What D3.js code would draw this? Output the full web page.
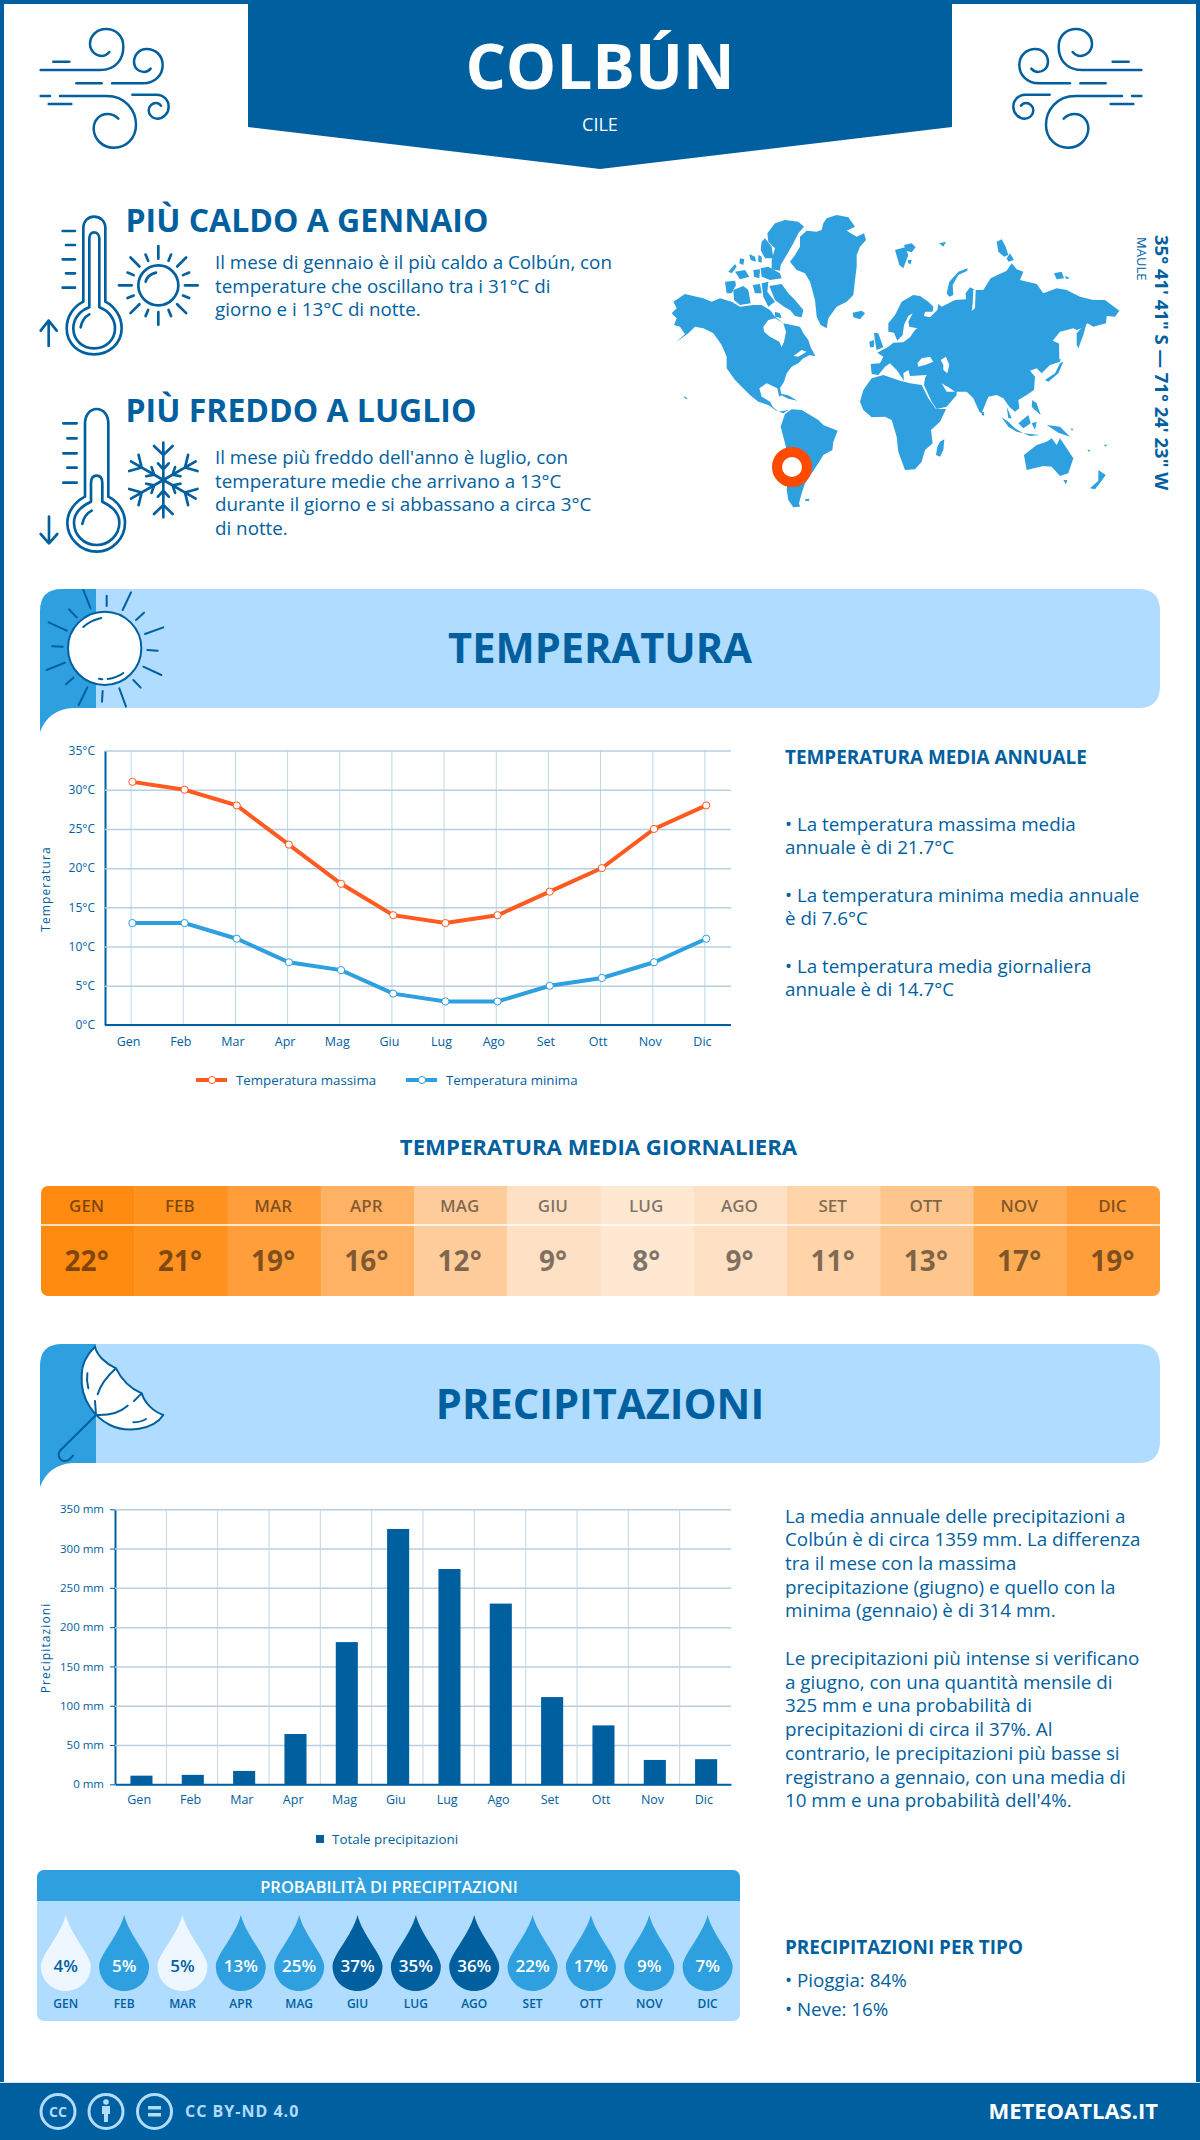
<!DOCTYPE html>
<html>
<head>
<meta charset="utf-8">
<script src="https://cdn.jsdelivr.net/npm/d3@7"></script>
<style>
html, body { margin: 0; padding: 0; background: #fff; }
svg { display: block; }
text { font-family: "Open Sans", sans-serif; }
.axis text { fill: #00609f; }
</style>
</head>
<body>
<div id="chart"></div>
<script>
// data
const months = ["Gen", "Feb", "Mar", "Apr", "Mag", "Giu", "Lug", "Ago", "Set", "Ott", "Nov", "Dic"];
const monthsUpper = ["GEN", "FEB", "MAR", "APR", "MAG", "GIU", "LUG", "AGO", "SET", "OTT", "NOV", "DIC"];
const tempMax = [31, 30, 28, 23, 18, 14, 13, 14, 17, 20, 25, 28];
const tempMin = [13, 13, 11, 8, 7, 4, 3, 3, 5, 6, 8, 11];
const tempAvg = [22, 21, 19, 16, 12, 9, 8, 9, 11, 13, 17, 19];
const precipTotal = [11, 12, 17, 64, 181, 325, 274, 230, 111, 75, 31, 32];
const precipProb = [4, 5, 5, 13, 25, 37, 35, 36, 22, 17, 9, 7];
const probClass = [0, 1, 0, 1, 1, 2, 2, 2, 1, 1, 1, 1];
const tempTicks = [0, 5, 10, 15, 20, 25, 30, 35];
const precipTicks = [0, 50, 100, 150, 200, 250, 300, 350];

const hotText = ["Il mese di gennaio è il più caldo a Colbún, con", "temperature che oscillano tra i 31°C di", "giorno e i 13°C di notte."];
const coldText = ["Il mese più freddo dell'anno è luglio, con", "temperature medie che arrivano a 13°C", "durante il giorno e si abbassano a circa 3°C", "di notte."];
const annualText = [
  ["• La temperatura massima media", "annuale è di 21.7°C"],
  ["• La temperatura minima media annuale", "è di 7.6°C"],
  ["• La temperatura media giornaliera", "annuale è di 14.7°C"]
];
const precipText1 = ["La media annuale delle precipitazioni a", "Colbún è di circa 1359 mm. La differenza", "tra il mese con la massima", "precipitazione (giugno) e quello con la", "minima (gennaio) è di 314 mm."];
const precipText2 = ["Le precipitazioni più intense si verificano", "a giugno, con una quantità mensile di", "325 mm e una probabilità di", "precipitazioni di circa il 37%. Al", "contrario, le precipitazioni più basse si", "registrano a gennaio, con una media di", "10 mm e una probabilità dell'4%."];

const BLUE = "#00609f", MID = "#2e9fdf", LIGHT = "#b0dcff", RED = "#ff5a1f";

let svg = d3.select("#chart").append("svg").attr("width", 1200).attr("height", 2140);

let txt = function(x, y, s, size, weight, fill, anchor) {
  return svg.append("text").attr("x", x).attr("y", y).attr("font-size", size)
    .attr("font-weight", weight || 400).attr("fill", fill || BLUE)
    .attr("text-anchor", anchor || "start").text(s);
};
let lines = function(x, y, arr, size, lh) {
  arr.forEach(function(s, i) { txt(x, y + i * lh, s, size); });
};

// frame and header
svg.append("rect").attr("width", 1200).attr("height", 4).attr("fill", BLUE);
svg.append("rect").attr("width", 4).attr("height", 2140).attr("fill", BLUE);
svg.append("rect").attr("x", 1196).attr("width", 4).attr("height", 2140).attr("fill", BLUE);
svg.append("path").attr("d", "M248 0H952V127L600 169L248 127Z").attr("fill", BLUE);
txt(600, 89, "COLBÚN", 63.5, 700, "#fff", "middle");
txt(600, 131, "CILE", 18, 400, "#fff", "middle");

// icons are drawn in the pixel space of a 3x crop
let icon = function(tx, ty, sx, sy, w, color) {
  return svg.append("g").attr("transform", "translate(" + tx + "," + ty + ") scale(" + sx + "," + sy + ")")
    .attr("fill", "none").attr("stroke", color || BLUE).attr("stroke-width", w)
    .attr("stroke-linecap", "round").attr("stroke-linejoin", "round");
};
const windPaths = [
  "M160 185H208",
  "M122 210H300C350 210 370 175 370 140C370 105 345 87 318 87C290 87 270 108 270 132C270 155 290 168 305 168C315 168 322 163 328 156",
  "M229 250H305",
  "M336 250H430C465 250 488 225 488 195C488 165 465 147 440 147C418 147 402 165 402 185C402 205 418 216 432 216C440 216 447 212 452 206",
  "M122 288H150",
  "M180 288H320C375 288 408 330 408 375C408 415 378 443 342 443C305 443 281 415 281 385C281 360 300 342 322 342C335 342 347 348 355 356",
  "M146 312H214",
  "M397 284H470C490 284 506 300 506 320C506 340 490 356 472 356C456 356 446 343 446 331C446 318 457 309 468 309C475 309 480 313 483 317"
];
[icon(0, 0, 1/3, 1/3, 7.5), icon(1182, 0, -1/3, 1/3, 7.5)].forEach(function(g) {
  windPaths.forEach(function(d) { g.append("path").attr("d", d); });
});

// hot and cold blocks
let thermo = icon(30, 200, 1/3, 1/3, 8);
[
  "M160 305V85C160 62 175 50 192 50C210 50 226 62 226 85V305C255 320 275 350 275 385C275 430 238 463 192 463C145 463 110 430 110 385C110 350 130 320 160 305Z",
  "M178 322V115C178 103 185 97 192 97C200 97 208 103 208 115V322C235 332 255 355 255 385C255 420 228 445 192 445C157 445 130 420 130 385C130 355 150 332 178 322Z",
  "M152 382C155 365 165 350 178 343",
  "M98 93H135M108 135H135M98 178H135M108 220H135M98 263H135",
  "M56 438V362M32 392L56 362L80 392",
  "M165 890V670C165 645 180 627 200 627C220 627 235 645 235 670V890C265 905 285 935 285 968C285 1015 247 1055 200 1055C152 1055 112 1015 112 968C112 935 135 905 165 890Z",
  "M183 905V850C183 835 190 827 200 827C210 827 217 835 217 850V905C245 918 268 940 268 968C268 1005 237 1035 200 1035C162 1035 132 1005 132 968C132 940 155 918 183 905Z",
  "M157 972C160 955 170 940 185 932",
  "M100 670H140M112 715H140M100 760H140M112 803H140M100 848H140",
  "M57 950V1030M32 1002L57 1030L82 1002",
  "M347 245C350 232 362 222 378 218"
].forEach(function(d) { thermo.append("path").attr("d", d); });
thermo.append("circle").attr("cx", 385).attr("cy", 256).attr("r", 60);
d3.range(16).forEach(function(i) {
  let a = i * Math.PI / 8, long = i % 2 === 0;
  let r0 = 80, r1 = long ? 118 : 100;
  thermo.append("line")
    .attr("x1", 385 + r0 * Math.cos(a)).attr("y1", 256 + r0 * Math.sin(a))
    .attr("x2", 385 + r1 * Math.cos(a)).attr("y2", 256 + r1 * Math.sin(a));
});
d3.range(6).forEach(function(i) {
  let arm = thermo.append("g").attr("transform", "translate(400,840) rotate(" + i * 60 + ")");
  arm.append("path").attr("d", "M0 0V-112M-28 -102L0 -75L28 -102M-16 -50L0 -32L16 -50");
});

txt(125.5, 232, "PIÙ CALDO A GENNAIO", 32, 700);
lines(215, 269, hotText, 18.8, 23.6);
txt(125.5, 422, "PIÙ FREDDO A LUGLIO", 32, 700);
lines(215, 464, coldText, 18.8, 23.6);

const landWest = [
  [[40,275],[75,252],[100,258],[130,265],[155,275],[180,265],[215,275],[240,290],[280,285],[305,285],[330,300],[345,320],[370,340],[395,345],[420,350],[430,370],[445,390],[452,412],[466,438],[448,436],[430,445],[415,460],[395,470],[380,490],[372,515],[360,535],[365,555],[358,560],[352,535],[320,520],[298,535],[305,560],[330,575],[338,590],[355,605],[385,600],[370,610],[350,603],[325,585],[295,575],[270,555],[245,530],[225,510],[200,475],[200,440],[185,405],[160,370],[130,355],[105,350],[85,370],[50,395],[75,372],[60,350],[42,345],[50,325],[35,310],[50,295]],
  [[322,70],[345,40],[375,30],[415,35],[432,50],[415,70],[400,100],[380,135],[362,165],[360,182],[335,178],[335,150],[345,115],[325,95]],
  [[305,95],[315,85],[335,110],[340,145],[315,145],[302,120]],
  [[328,228],[365,222],[385,250],[405,270],[430,300],[425,322],[405,318],[390,300],[372,290],[345,270]],
  [[195,215],[225,212],[228,225],[215,250],[200,250]],
  [[220,240],[250,228],[265,240],[272,280],[240,285],[222,270]],
  [[205,185],[225,162],[230,170],[215,190]],
  [[225,185],[255,180],[268,200],[240,208]],
  [[240,145],[253,148],[250,165],[238,160]],
  [[268,132],[285,140],[288,155],[272,150]],
  [[280,180],[300,178],[298,205],[282,200]],
  [[295,135],[305,140],[305,158],[295,155]],
  [[302,175],[325,170],[360,190],[365,205],[330,210],[305,200]],
  [[278,225],[300,222],[305,250],[285,250]],
  [[305,220],[325,215],[322,245],[345,275],[325,290],[310,260]],
  [[345,305],[360,310],[365,325],[345,320]],
  [[490,40],[500,25],[530,15],[565,22],[585,50],[560,62],[590,80],[612,70],[618,90],[600,110],[590,135],[590,170],[585,210],[580,255],[560,275],[530,290],[505,325],[500,355],[482,345],[470,320],[465,270],[450,215],[435,190],[410,180],[390,155],[405,135],[420,110],[420,80],[440,62],[470,65],[485,60]],
  [[578,308],[605,302],[615,310],[600,328],[580,322]],
  [[362,650],[375,612],[395,598],[425,600],[450,615],[475,630],[490,645],[533,662],[520,695],[517,720],[490,735],[475,760],[455,790],[435,820],[425,850],[417,880],[420,890],[400,892],[385,870],[380,840],[385,790],[385,740],[375,700]],
  [[435,868],[448,866],[448,872],[436,873]],
  [[352,550],[385,556],[412,572],[385,566]],
  [[70,558],[76,560],[84,568],[76,566]]
];
const seasWest = [
  [[310,350],[325,330],[345,325],[370,340],[378,365],[372,395],[365,412],[358,395],[330,380],[312,365]],
  [[400,438],[425,420],[440,425],[415,440]]
];
const landEast = [
  [[0,575],[10,540],[35,505],[70,495],[120,512],[150,520],[185,525],[205,565],[228,597],[258,597],[240,635],[213,660],[218,700],[195,720],[185,755],[165,778],[135,780],[115,725],[110,680],[95,630],[75,620],[35,622],[10,600]],
  [[32,462],[60,460],[70,440],[52,428],[85,410],[100,398],[130,397],[150,382],[165,360],[172,355],[148,350],[145,335],[158,310],[145,318],[132,345],[128,375],[112,392],[102,368],[85,365],[85,340],[105,315],[125,275],[160,255],[180,258],[205,275],[220,290],[218,305],[195,305],[192,318],[210,322],[232,300],[235,282],[245,290],[285,270],[318,268],[317,250],[330,232],[345,240],[370,240],[392,205],[440,182],[455,160],[470,178],[490,185],[480,210],[530,222],[550,250],[590,235],[620,240],[660,260],[700,270],[735,270],[778,302],[765,320],[740,318],[738,340],[700,350],[683,340],[665,355],[650,360],[640,355],[600,365],[578,392],[600,402],[605,430],[600,455],[570,465],[545,490],[530,475],[510,482],[525,500],[522,540],[500,555],[475,570],[478,595],[465,605],[448,590],[430,565],[410,555],[385,560],[365,610],[358,605],[340,565],[320,545],[290,545],[290,555],[260,590],[230,597],[215,575],[192,525],[195,505],[200,495],[150,498],[145,480],[130,490],[132,512],[110,480],[90,460],[75,470],[55,495],[35,492]],
  [[260,250],[268,215],[295,185],[322,175],[322,182],[295,195],[278,225],[280,255],[268,260]],
  [[410,95],[425,88],[437,110],[445,135],[432,140],[415,125]],
  [[440,145],[450,130],[462,150],[445,155]],
  [[105,120],[135,112],[145,135],[130,175],[118,165]],
  [[132,105],[155,100],[167,112],[155,127],[138,122]],
  [[143,150],[155,150],[152,163],[145,160]],
  [[238,100],[258,95],[250,110]],
  [[582,190],[605,185],[612,205],[590,208]],
  [[615,197],[630,205],[618,207]],
  [[42,368],[55,370],[70,412],[50,420],[45,395]],
  [[28,395],[42,390],[42,410],[30,412]],
  [[650,370],[680,338],[670,375],[655,415],[650,405]],
  [[555,510],[585,490],[600,460],[610,455],[595,490],[565,515]],
  [[240,695],[253,688],[250,720],[240,740],[228,735],[232,710]],
  [[365,605],[372,607],[372,617],[365,615]],
  [[425,622],[445,635],[465,655],[490,670],[470,665],[445,650]],
  [[475,640],[505,615],[512,640],[490,655]],
  [[490,670],[540,675],[510,678]],
  [[515,640],[530,635],[525,660]],
  [[517,570],[530,580],[542,615],[525,600],[515,590]],
  [[560,645],[600,650],[630,680],[595,668],[575,655]],
  [[440,590],[455,625],[445,625]],
  [[492,735],[530,705],[560,695],[575,685],[590,705],[600,685],[640,745],[625,790],[600,798],[575,770],[550,768],[500,780]],
  [[610,810],[622,810],[618,823]],
  [[715,780],[737,795],[725,812],[705,838],[690,835],[715,812]],
  [[632,655],[640,657],[636,662]],
  [[682,718],[692,722],[686,725]],
  [[732,706],[742,703],[736,710]]
];
const seasEast = [
  [[242,450],[258,440],[268,465],[262,490],[250,480],[250,465]],
  [[172,460],[185,445],[210,440],[220,455],[195,465],[175,470]],
  [[245,520],[270,535],[285,545],[260,545]],
  [[340,240],[347,240],[345,295],[335,303],[338,280]],
  [[597,400],[605,400],[606,445],[598,448]]
];
let coast = d3.line().curve(d3.curveLinearClosed);
[[660, landWest, seasWest], [860, landEast, seasEast]].forEach(function(part) {
  let map = svg.append("g").attr("transform", "translate(" + part[0] + ",210) scale(" + 1 / 3 + ")");
  map.selectAll(".land").data(part[1]).join("path").attr("class", "land").attr("d", coast).attr("fill", MID);
  map.selectAll(".sea").data(part[2]).join("path").attr("class", "sea").attr("d", coast).attr("fill", "#fff");
});
svg.append("circle").attr("cx", 792).attr("cy", 467).attr("r", 15).attr("fill", "#fff").attr("stroke", "#ff4a00").attr("stroke-width", 10);

svg.append("text").attr("transform", "translate(1155,235) rotate(90)").attr("font-size", 18.5).attr("font-weight", 700).attr("fill", BLUE).text("35° 41' 41\" S — 71° 24' 23\" W");
svg.append("text").attr("transform", "translate(1137,237) rotate(90)").attr("font-size", 13).attr("fill", BLUE).text("MAULE");

// section banners
let banner = function(dy, title, ty) {
  let g = svg.append("g").attr("transform", "translate(0," + dy + ")");
  g.append("path").attr("d", "M96 589H1138Q1160 589 1160 611V686Q1160 708 1138 708H96Z").attr("fill", LIGHT);
  g.append("path").attr("d", "M40 732V611Q40 589 62 589H96V708H72Q48 710 40 732Z").attr("fill", MID);
  txt(600, ty, title, 41.6, 700, BLUE, "middle");
};
banner(0, "TEMPERATURA", 663);
banner(755, "PRECIPITAZIONI", 1419);

let sun = icon(30, 580, 1/3, 1/3, 6);
sun.append("circle").attr("cx", 224).attr("cy", 205).attr("r", 110).attr("fill", "#fff");
sun.append("path").attr("d", "M160 30L182 85M230 47V78M303 37L278 90M342 98L318 120M400 142L345 162M352 210L383 212M340 260L394 285M310 300L332 323M268 325L288 380M218 333L216 365M172 322L146 375M130 293L108 313M105 248L50 270M98 200L67 199M110 152L56 127M140 112L117 88M160 141C175 127 195 118 214 114M233 297C250 295 268 288 280 279M207 296L217 298");

let umbrella = icon(30, 1335, 1/3, 1/3, 6);
umbrella.append("path").attr("fill", "#fff").attr("d", "M195 35C200 60 225 85 258 100C275 135 300 160 335 175C345 205 370 230 400 240C370 285 290 295 240 270C200 250 150 200 155 120C155 85 175 55 195 35Z");
umbrella.append("path").attr("d", "M258 100C230 125 210 155 203 178M172 115C170 130 171 145 175 160M335 175L312 198M293 212C270 232 235 242 198 240M198 240L195 198M310 262C325 262 338 258 348 252M198 240L92 345C80 358 88 378 105 378C115 378 123 370 129 362");

// temperature chart
let tx = d3.scaleBand().domain(months).range([105, 731]);
let ty = d3.scaleLinear().domain([0, 35]).range([1025, 750.5]);

let gridStyle = function(g, yColor) {
  g.selectAll(".tick line").attr("stroke", yColor);
};
let xAxisT = svg.append("g").attr("class", "axis").attr("transform", "translate(0,1025)")
  .call(d3.axisBottom(tx).tickSize(-274.5).tickSizeOuter(0).tickPadding(12));
xAxisT.call(gridStyle, "#bcd6e8");
xAxisT.selectAll("text").attr("font-size", 12.5).attr("dx", -2.5);
xAxisT.select(".domain").remove();
let yAxisT = svg.append("g").attr("class", "axis").attr("transform", "translate(105,0)")
  .call(d3.axisLeft(ty).tickValues(tempTicks).tickFormat(function(d) { return d + "°C"; }).tickSize(-626).tickSizeOuter(0).tickPadding(10));
yAxisT.call(gridStyle, "#b6cfe2");
yAxisT.selectAll(".tick line").attr("stroke-width", 1.5);
yAxisT.selectAll("text").attr("font-size", 12);
yAxisT.select(".domain").attr("stroke", BLUE).attr("stroke-width", 2);
svg.append("line").attr("x1", 105).attr("x2", 731).attr("y1", 1025).attr("y2", 1025).attr("stroke", BLUE).attr("stroke-width", 2);

let drawSeries = function(values, color) {
  let px = function(i) { return tx(months[i]) + tx.bandwidth() / 2 + 1.3; };
  let line = d3.line().x(function(d, i) { return px(i); }).y(function(d) { return ty(d); });
  svg.append("path").datum(values).attr("d", line).attr("fill", "none").attr("stroke", color).attr("stroke-width", 4);
  svg.selectAll(null).data(values).join("circle")
    .attr("cx", function(d, i) { return px(i); }).attr("cy", function(d) { return ty(d); })
    .attr("r", 3.6).attr("fill", "#fff").attr("stroke", color).attr("stroke-width", 1);
};
drawSeries(tempMax, RED);
drawSeries(tempMin, MID);

let legendT = function(x, color, label) {
  svg.append("line").attr("x1", x).attr("x2", x + 31).attr("y1", 1080).attr("y2", 1080).attr("stroke", color).attr("stroke-width", 4);
  svg.append("circle").attr("cx", x + 16).attr("cy", 1080).attr("r", 3.6).attr("fill", "#fff").attr("stroke", color);
  txt(x + 40, 1084.5, label, 13.3);
};
legendT(196, RED, "Temperatura massima");
legendT(406, MID, "Temperatura minima");

svg.append("text").attr("transform", "translate(50,889) rotate(-90)").attr("text-anchor", "middle")
  .attr("font-size", 12).attr("letter-spacing", 1.1).attr("fill", BLUE).text("Temperatura");

txt(785, 763.5, "TEMPERATURA MEDIA ANNUALE", 18.9, 700);
annualText.forEach(function(p, i) { lines(785, 830.5 + i * 71, p, 18.8, 23.3); });

// daily mean heat strip
txt(598.5, 1155, "TEMPERATURA MEDIA GIORNALIERA", 22.2, 700, BLUE, "middle");
let hx = d3.scaleBand().domain(monthsUpper).range([41, 1160]);
let hc = d3.scaleLinear().domain([8, 22]).range(["#fee8d2", "#ff8a10"]);
svg.append("clipPath").attr("id", "heat-clip").append("rect").attr("x", 41).attr("y", 1186).attr("width", 1119).attr("height", 110).attr("rx", 7);
let heat = svg.append("g").attr("clip-path", "url(#heat-clip)");
heat.selectAll("rect").data(tempAvg).join("rect")
  .attr("x", function(d, i) { return hx(monthsUpper[i]); }).attr("y", 1186)
  .attr("width", hx.bandwidth() + 0.5).attr("height", 110)
  .attr("fill", function(d) { return hc(d); });
svg.append("line").attr("x1", 41).attr("x2", 1160).attr("y1", 1225).attr("y2", 1225).attr("stroke", "#fff").attr("stroke-width", 1.5);
tempAvg.forEach(function(d, i) {
  let cx = hx(monthsUpper[i]) + hx.bandwidth() / 2 - 1;
  txt(cx, 1211.5, monthsUpper[i], 17, 600, "rgba(0,0,0,0.5)", "middle");
  txt(cx, 1270.5, d + "°", 28, 700, "rgba(0,0,0,0.5)", "middle");
});

// precipitation chart
let bx = d3.scaleBand().domain(months).range([115, 731]).paddingInner(0.57).paddingOuter(0.285);
let bxEdge = d3.scaleBand().domain(months).range([115, 731]);
let by = d3.scaleLinear().domain([0, 350]).range([1784.3, 1509.3]);

let yAxisP = svg.append("g").attr("class", "axis").attr("transform", "translate(115,0)")
  .call(d3.axisLeft(by).tickValues(precipTicks).tickFormat(function(d) { return d + " mm"; }).tickSize(-616).tickSizeOuter(0).tickPadding(11));
yAxisP.call(gridStyle, "#b6cfe2");
yAxisP.selectAll(".tick line").attr("stroke-width", 1.5);
yAxisP.selectAll(".tick").append("line").attr("x1", -5).attr("x2", 0).attr("stroke", BLUE);
yAxisP.selectAll("text").attr("font-size", 11.5);
yAxisP.select(".domain").attr("stroke", BLUE).attr("stroke-width", 2);
svg.selectAll(".vgrid").data(months.slice(1)).join("line").attr("class", "vgrid")
  .attr("x1", function(d) { return bxEdge(d); }).attr("x2", function(d) { return bxEdge(d); })
  .attr("y1", 1509.3).attr("y2", 1784.3).attr("stroke", "#c2d5e4");
let xAxisP = svg.append("g").attr("class", "axis").attr("transform", "translate(0,1784.3)")
  .call(d3.axisBottom(bxEdge).tickSize(0).tickPadding(11));
xAxisP.selectAll("text").attr("font-size", 12.5).attr("dx", -1.5);
xAxisP.select(".domain").attr("stroke", BLUE).attr("stroke-width", 2);

svg.selectAll(".bar").data(precipTotal).join("rect").attr("class", "bar")
  .attr("x", function(d, i) { return bx(months[i]) + 0.8; })
  .attr("y", function(d) { return by(d); })
  .attr("width", bx.bandwidth())
  .attr("height", function(d) { return by(0) - by(d); })
  .attr("fill", BLUE);

svg.append("rect").attr("x", 316).attr("y", 1835).attr("width", 8).attr("height", 8).attr("fill", BLUE);
txt(332, 1844, "Totale precipitazioni", 13.4);
svg.append("text").attr("transform", "translate(50,1648) rotate(-90)").attr("text-anchor", "middle")
  .attr("font-size", 12).attr("letter-spacing", 1.1).attr("fill", BLUE).text("Precipitazioni");

lines(785, 1522.5, precipText1, 18.8, 23.7);
lines(785, 1665, precipText2, 18.8, 23.7);

// probability panel
svg.append("clipPath").attr("id", "prob-clip").append("rect").attr("x", 37).attr("y", 1870).attr("width", 703).attr("height", 151).attr("rx", 7);
let panel = svg.append("g").attr("clip-path", "url(#prob-clip)");
panel.append("rect").attr("x", 37).attr("y", 1870).attr("width", 703).attr("height", 151).attr("fill", LIGHT);
panel.append("rect").attr("x", 37).attr("y", 1870).attr("width", 703).attr("height", 31).attr("fill", MID);
txt(389, 1892.5, "PROBABILITÀ DI PRECIPITAZIONI", 16.5, 600, "#fff", "middle");

let dx = d3.scaleBand().domain(monthsUpper).range([36.6, 736.8]);
const dropFill = ["#eef7ff", MID, BLUE];
const dropText = [BLUE, "#fff", "#fff"];
let drops = svg.selectAll(".drop").data(precipProb).join("g").attr("class", "drop")
  .attr("transform", function(d, i) { return "translate(" + (dx(monthsUpper[i]) + dx.bandwidth() / 2) + ",1915)"; });
drops.append("path").attr("d", "M0 0C5 20 25 40 25 51C25 66 13 76 0 76C-13 76 -25 66 -25 51C-25 40 -5 20 0 0Z")
  .attr("fill", function(d, i) { return dropFill[probClass[i]]; });
drops.append("text").attr("y", 57).attr("text-anchor", "middle").attr("font-size", 17).attr("font-weight", 600)
  .attr("fill", function(d, i) { return dropText[probClass[i]]; }).text(function(d) { return d + "%"; });
drops.append("text").attr("y", 93).attr("text-anchor", "middle").attr("font-size", 12).attr("font-weight", 600)
  .attr("fill", BLUE).text(function(d, i) { return monthsUpper[i]; });

txt(785, 1954, "PRECIPITAZIONI PER TIPO", 18.9, 700);
txt(785, 1987, "• Pioggia: 84%", 18.8);
txt(785, 2016, "• Neve: 16%", 18.8);

// footer
svg.append("rect").attr("y", 2082).attr("width", 1200).attr("height", 1).attr("fill", "#d5e3ee");
svg.append("rect").attr("y", 2083).attr("width", 1200).attr("height", 57).attr("fill", BLUE);
[58, 106, 154.5].forEach(function(cx) {
  svg.append("circle").attr("cx", cx).attr("cy", 2111.5).attr("r", 17).attr("fill", "none").attr("stroke", LIGHT).attr("stroke-width", 3);
});
txt(58, 2117, "CC", 14, 700, LIGHT, "middle");
svg.append("circle").attr("cx", 106).attr("cy", 2102).attr("r", 2.8).attr("fill", LIGHT);
svg.append("rect").attr("x", 102).attr("y", 2106).attr("width", 8).attr("height", 8).attr("fill", LIGHT);
svg.append("rect").attr("x", 104).attr("y", 2113).attr("width", 4).attr("height", 9).attr("fill", LIGHT);
svg.append("rect").attr("x", 148).attr("y", 2106).attr("width", 13).attr("height", 3.5).attr("fill", LIGHT);
svg.append("rect").attr("x", 148).attr("y", 2113).attr("width", 13).attr("height", 3.5).attr("fill", LIGHT);
txt(185, 2117, "CC BY-ND 4.0", 16, 700, LIGHT).attr("letter-spacing", 1);
txt(1158, 2119, "METEOATLAS.IT", 22, 700, "#fff", "end");
</script>
</body>
</html>
